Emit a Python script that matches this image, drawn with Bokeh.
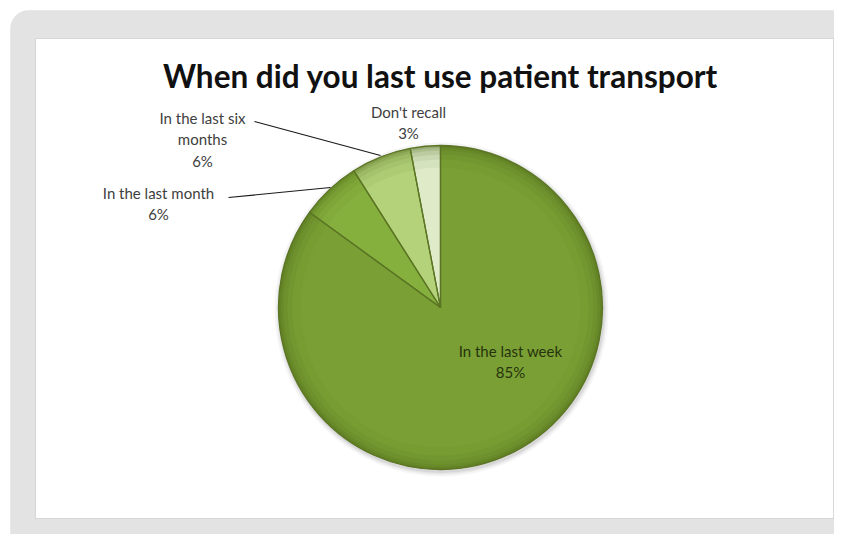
import math
from bokeh.plotting import figure
from bokeh.models import Range1d, BoxAnnotation, ColumnDataSource
from bokeh.core.properties import value
from bokeh.embed import file_html
from bokeh.resources import INLINE

# ---- data ----
title_text = "When did you last use patient transport"
categories = ["In the last week", "In the last month", "In the last six months", "Don't recall"]
values = [85, 6, 6, 3]
wrapped_names = ["In the last week", "In the last month", "In the last six\nmonths", "Don't recall"]
colors = ["#7AA035", "#86B03E", "#B4D27A", "#DEEAC8"]

# ---- layout helpers (image pixel coords -> data) ----
W, H = 834, 534
def Y(y):
    return 550 - y

cx, cy, R = 440, 307, 162
label_pos = [(510, 361), (158, 203), (202, 139), (408, 122)]
label_color = ["#26330c", "#404040", "#404040", "#404040"]
leaders = [None, [(228, 197), (330, 187)], [(254, 121), (380, 155)], None]

p = figure(width=W, height=H, x_range=Range1d(0, W), y_range=Range1d(550 - H, 550),
           output_backend="svg", toolbar_location=None, min_border=0,
           outline_line_color=None, background_fill_color="white", border_fill_color="white")
p.axis.visible = False
p.grid.visible = False

outer = BoxAnnotation(left=10, right=860, top=Y(10), bottom=Y(560), border_radius=18,
                      fill_color="#e3e3e3", fill_alpha=1, line_color="#d6d6d6", level="underlay")
inner = BoxAnnotation(left=35, right=833, top=Y(38), bottom=Y(518),
                      fill_color="white", fill_alpha=1, line_color="#9a9a9a", line_width=1, level="underlay")
p.add_layout(outer)
p.add_layout(inner)

# soft shadow
for k, a in [(5, 0.10), (3, 0.15), (1.5, 0.2)]:
    p.circle(x=[cx + 1], y=[Y(cy) - 2], radius=R + k, fill_color="#9a9a9a", fill_alpha=a, line_color=None)

total = sum(values)
starts, ends = [], []
acc = 0
for v in values:
    starts.append(math.pi / 2 - 2 * math.pi * acc / total)
    acc += v
    ends.append(math.pi / 2 - 2 * math.pi * acc / total)

src = ColumnDataSource(dict(start=starts, end=ends, color=colors, name=categories))
p.wedge(x=cx, y=Y(cy), radius=R, start_angle="start", end_angle="end", direction="clock",
        fill_color="color", line_color=None, source=src)

# darker rim to suggest the bevel
for w_, a in [(22, 0.06), (14, 0.08), (9, 0.10), (5, 0.14), (2.5, 0.2)]:
    p.annular_wedge(x=cx, y=Y(cy), inner_radius=R - w_, outer_radius=R, start_angle="start",
                    end_angle="end", direction="clock", fill_color="#4a6218", fill_alpha=a,
                    line_color=None, source=src)

p.wedge(x=cx, y=Y(cy), radius=R, start_angle="start", end_angle="end", direction="clock",
        fill_color=None, line_color="#5b7524", line_width=1.3, source=src)

# leader lines
for seg in leaders:
    if seg:
        p.line(x=[seg[0][0], seg[1][0]], y=[Y(seg[0][1]), Y(seg[1][1])], line_color="#1a1a1a", line_width=1.2)

# labels
texts = [f"{n}\n{v}%" for n, v in zip(wrapped_names, values)]
p.text(x=[q[0] for q in label_pos], y=[Y(q[1]) for q in label_pos], text=texts,
       text_align="center", text_baseline="middle", text_font=value("Lato"),
       text_font_size="15px", text_color=label_color, text_line_height=1.2)

# title
p.text(x=[440], y=[Y(75)], text=[title_text], text_align="center", text_baseline="middle",
       text_font=value("Lato"), text_font_style="bold", text_font_size="31.5px", text_color="#111111")

open("out.html", "w").write(file_html(p, INLINE))
